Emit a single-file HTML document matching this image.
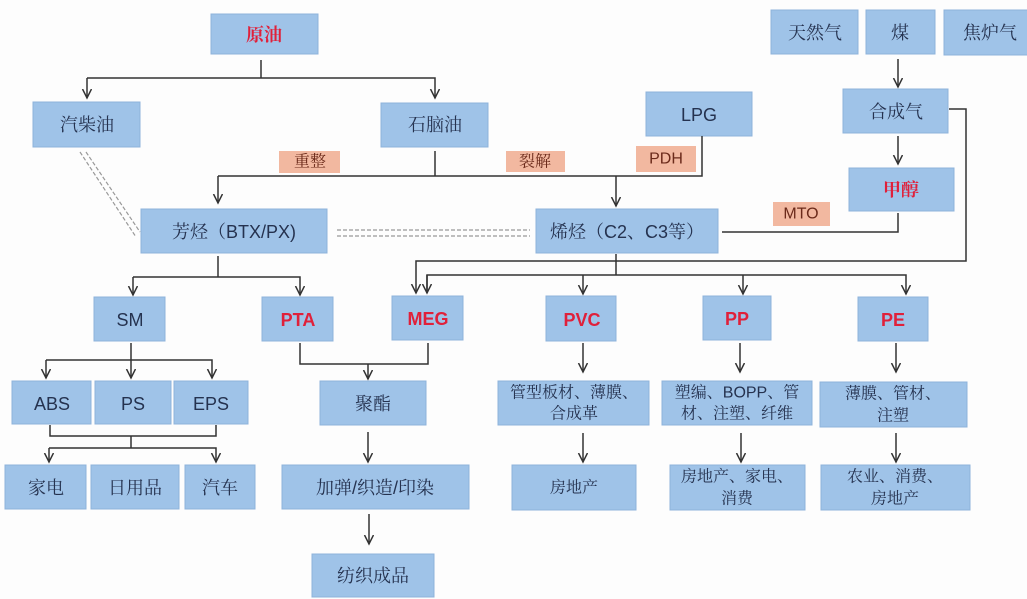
<!DOCTYPE html>
<html><head><meta charset="utf-8"><style>
html,body{margin:0;padding:0;background:#fdfdfd;}
svg{display:block}
text{font-family:"Liberation Sans","Noto Serif CJK SC",serif;font-size:18px;fill:#25324f;text-anchor:middle;dominant-baseline:central}
.r{fill:#e0203a;font-weight:bold}
.b rect{fill:#9fc3e8;stroke:#8eb3da;stroke-width:1}
.l rect{fill:#f2b8a0}
.l text{fill:#6b2a1a;font-size:16px}
.s{font-size:16px}
line,polyline{stroke:#333;stroke-width:1.5;fill:none}
.d{stroke:#999;stroke-width:1.2;stroke-dasharray:4,2}
</style></head><body>
<svg width="1027" height="599" viewBox="0 0 1027 599">
<defs><marker id="a" markerWidth="12" markerHeight="12" refX="9" refY="5" orient="auto" markerUnits="userSpaceOnUse"><path d="M0,0.5 L9,5 L0,9.5" fill="none" stroke="#333" stroke-width="1.5"/></marker></defs>
<g class="b">
<rect x="211" y="14" width="107" height="40"/><text x="264" y="35" class="r">原油</text>
<rect x="33" y="102" width="107" height="45"/><text x="87" y="125">汽柴油</text>
<rect x="381" y="103" width="107" height="44"/><text x="435" y="125">石脑油</text>
<rect x="141" y="209" width="186" height="44"/><text x="234" y="232">芳烃（BTX/PX)</text>
<rect x="536" y="209" width="182" height="44"/><text x="627" y="232">烯烃（C2、C3等）</text>
<rect x="646" y="92" width="106" height="44"/><text x="699" y="115">LPG</text>
<rect x="771" y="10" width="87" height="44"/><text x="815" y="33">天然气</text>
<rect x="866" y="10" width="69" height="44"/><text x="900" y="33">煤</text>
<rect x="944" y="10" width="90" height="45"/><text x="990" y="33">焦炉气</text>
<rect x="843" y="89" width="105" height="44"/><text x="896" y="112">合成气</text>
<rect x="849" y="168" width="105" height="43"/><text x="901" y="190" class="r">甲醇</text>
<rect x="94" y="297" width="71" height="44"/><text x="130" y="320">SM</text>
<rect x="262" y="297" width="71" height="44"/><text x="298" y="320" class="r">PTA</text>
<rect x="392" y="296" width="71" height="44"/><text x="428" y="319" class="r">MEG</text>
<rect x="546" y="296" width="70" height="45"/><text x="582" y="320" class="r">PVC</text>
<rect x="703" y="296" width="68" height="44"/><text x="737" y="319" class="r">PP</text>
<rect x="858" y="297" width="70" height="44"/><text x="893" y="320" class="r">PE</text>
<rect x="12" y="381" width="79" height="43"/><text x="52" y="404">ABS</text>
<rect x="95" y="381" width="76" height="43"/><text x="133" y="404">PS</text>
<rect x="174" y="381" width="74" height="43"/><text x="211" y="404">EPS</text>
<rect x="5" y="465" width="81" height="44"/><text x="46" y="488">家电</text>
<rect x="91" y="465" width="88" height="44"/><text x="135" y="488">日用品</text>
<rect x="185" y="465" width="70" height="44"/><text x="220" y="488">汽车</text>
<rect x="320" y="381" width="106" height="44"/><text x="373" y="404">聚酯</text>
<rect x="282" y="465" width="187" height="44"/><text x="375" y="488">加弹/织造/印染</text>
<rect x="312" y="554" width="122" height="43"/><text x="373" y="576">纺织成品</text>
<rect x="498" y="381" width="151" height="44"/><text x="574" y="393" class="s">管型板材、薄膜、</text><text x="574" y="414" class="s">合成革</text>
<rect x="662" y="381" width="150" height="44"/><text x="737" y="393" class="s">塑编、BOPP、管</text><text x="737" y="414" class="s">材、注塑、纤维</text>
<rect x="820" y="382" width="147" height="45"/><text x="893" y="394" class="s">薄膜、管材、</text><text x="893" y="416" class="s">注塑</text>
<rect x="512" y="465" width="124" height="45"/><text x="574" y="488" class="s">房地产</text>
<rect x="670" y="465" width="135" height="45"/><text x="737" y="477" class="s">房地产、家电、</text><text x="737" y="499" class="s">消费</text>
<rect x="821" y="465" width="149" height="45"/><text x="895" y="477" class="s">农业、消费、</text><text x="895" y="499" class="s">房地产</text>
</g>
<g class="l">
<rect x="279" y="151" width="61" height="22"/><text x="310" y="162">重整</text>
<rect x="506" y="151" width="59" height="21"/><text x="535" y="162">裂解</text>
<rect x="636" y="146" width="60" height="26"/><text x="666" y="159">PDH</text>
<rect x="773" y="202" width="57" height="24"/><text x="801" y="214">MTO</text>
</g>
<line x1="261" y1="60" x2="261" y2="78"/>
<polyline points="87,78 435,78 435,98" marker-end="url(#a)"/>
<line x1="87" y1="78" x2="87" y2="98" marker-end="url(#a)"/>
<line x1="435" y1="151" x2="435" y2="176"/>
<polyline points="218,176 702,176 702,136"/>
<line x1="218" y1="176" x2="218" y2="203" marker-end="url(#a)"/>
<line x1="616" y1="176" x2="616" y2="206" marker-end="url(#a)"/>
<line class="d" x1="80" y1="152" x2="136" y2="237"/>
<line class="d" x1="86" y1="152" x2="140" y2="232"/>
<line class="d" x1="337" y1="230" x2="530" y2="230"/>
<line class="d" x1="337" y1="236" x2="530" y2="236"/>
<line x1="898" y1="59" x2="898" y2="87" marker-end="url(#a)"/>
<line x1="898" y1="136" x2="898" y2="164" marker-end="url(#a)"/>
<polyline points="722,232 898,232 898,213"/>
<polyline points="949,109 966,109 966,261 416,261 416,293" marker-end="url(#a)"/>
<line x1="616" y1="254" x2="616" y2="275"/>
<polyline points="427,293 427,275 906,275 906,294" marker-end="url(#a)"/>
<line x1="427" y1="275" x2="427" y2="293" marker-end="url(#a)"/>
<line x1="583" y1="275" x2="583" y2="294" marker-end="url(#a)"/>
<line x1="743" y1="275" x2="743" y2="294" marker-end="url(#a)"/>
<line x1="218" y1="256" x2="218" y2="277"/>
<polyline points="133,277 300,277 300,295" marker-end="url(#a)"/>
<line x1="133" y1="277" x2="133" y2="295" marker-end="url(#a)"/>
<line x1="131" y1="343" x2="131" y2="378" marker-end="url(#a)"/>
<polyline points="46,360 212,360 212,378" marker-end="url(#a)"/>
<line x1="46" y1="360" x2="46" y2="378" marker-end="url(#a)"/>
<polyline points="50,425 50,436 216,436 216,425"/>
<line x1="131" y1="436" x2="131" y2="448"/>
<polyline points="49,448 216,448 216,462" marker-end="url(#a)"/>
<line x1="49" y1="448" x2="49" y2="462" marker-end="url(#a)"/>
<polyline points="300,343 300,364 428,364 428,343"/>
<line x1="368" y1="364" x2="368" y2="379" marker-end="url(#a)"/>
<line x1="368" y1="432" x2="368" y2="462" marker-end="url(#a)"/>
<line x1="369" y1="514" x2="369" y2="544" marker-end="url(#a)"/>
<line x1="583" y1="343" x2="583" y2="372" marker-end="url(#a)"/>
<line x1="583" y1="433" x2="583" y2="462" marker-end="url(#a)"/>
<line x1="740" y1="343" x2="740" y2="372" marker-end="url(#a)"/>
<line x1="741" y1="433" x2="741" y2="462" marker-end="url(#a)"/>
<line x1="896" y1="343" x2="896" y2="372" marker-end="url(#a)"/>
<line x1="896" y1="433" x2="896" y2="462" marker-end="url(#a)"/>
</svg>
</body></html>
